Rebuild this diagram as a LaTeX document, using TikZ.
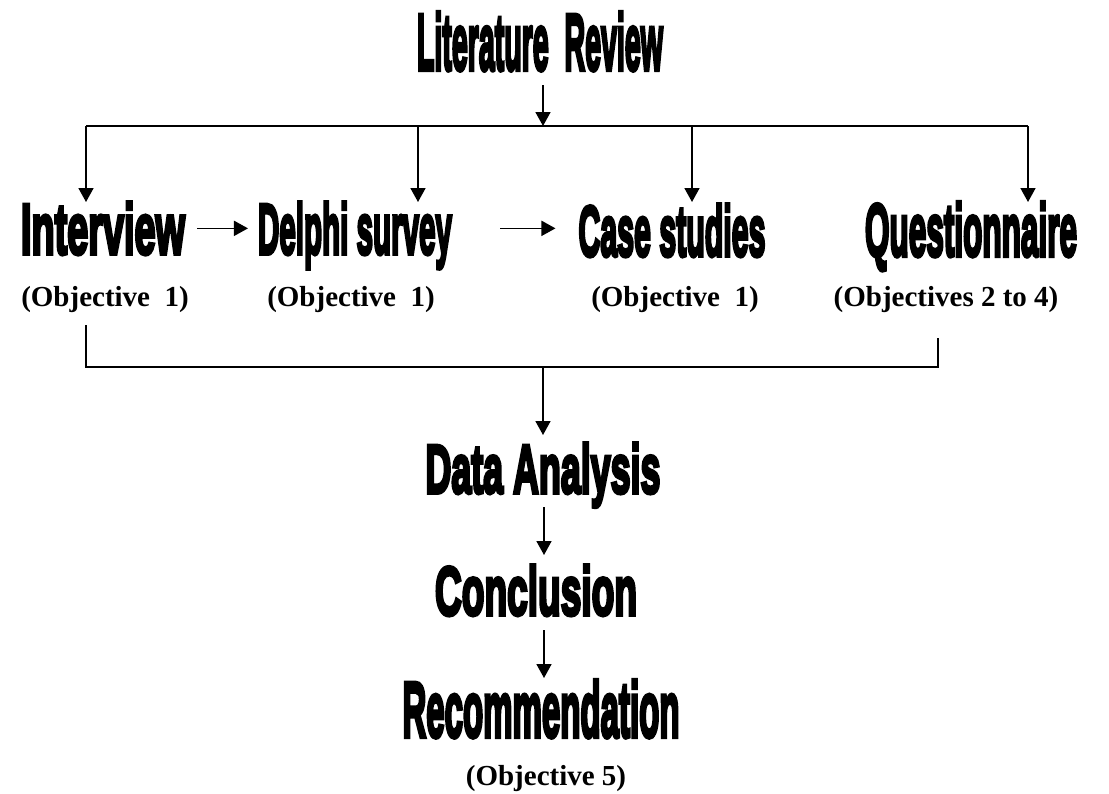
\documentclass[tikz,border=0pt]{standalone}
\usepackage{fontspec}
\usepackage{graphicx}
\usetikzlibrary{arrows.meta}
\setmainfont{Liberation Serif}
\newfontfamily\headfont{Liberation Sans}[BoldFeatures={FakeBold=5.5}]
% heading text squeezed to a given width and cap height
\newcommand\headtext[3]{\resizebox{#1pt}{#2pt}{\headfont\bfseries #3}}
\tikzset{
  head/.style={inner sep=0pt, outer sep=0pt, anchor=base},
  objlabel/.style={inner sep=0pt, anchor=base, font=\fontsize{29}{31}\selectfont\bfseries},
  link/.style={line width=1.7pt, black},
  arr/.style={link, -{Triangle[length=14pt,width=15pt]}}
}
\begin{document}
\begin{tikzpicture}[x=1pt,y=-1pt]
\useasboundingbox (0,0) rectangle (1109,793);

% headings
\node[head] (lr)  at (540,70)  {\headtext{246}{58}{Literature\ \ Review}};
\node[head] (int) at (103,254) {\headtext{164}{52}{Interview}};
\node[head] (del) at (355,254) {\headtext{194}{52}{Delphi survey}};
\node[head] (cas) at (672,256) {\headtext{187}{52}{Case studies}};
\node[head] (que) at (971,256) {\headtext{212}{54}{Questionnaire}};
\node[head] (da)  at (543,493) {\headtext{235}{50}{Data Analysis}};
\node[head] (con) at (536,615) {\headtext{202}{50}{Conclusion}};
\node[head] (rec) at (541,737) {\headtext{277}{57}{Recommendation}};

% objective labels
\node[objlabel] (o1) at (105,306) {(Objective\ \ 1)};
\node[objlabel] (o2) at (351,306) {(Objective\ \ 1)};
\node[objlabel] (o3) at (675,306) {(Objective\ \ 1)};
\node[objlabel] (o4) at (946,306) {(Objectives 2 to 4)};
\node[objlabel] (o5) at (546,785) {(Objective 5)};

% fan-out from the literature review
\coordinate (lrfoot) at (543,85);
\coordinate (split)  at (543,126);
\coordinate (tint)   at (86,126);
\coordinate (tdel)   at (418,126);
\coordinate (tcas)   at (692,126);
\coordinate (tque)   at (1028,126);
\draw[arr] (lrfoot) -- (split);
\draw[link] (tint) -- (tque);
\draw[arr] (tint) -- (tint |- int.north);
\draw[arr] (tdel) -- (tdel |- int.north);
\draw[arr] (tcas) -- (tcas |- int.north);
\draw[arr] (tque) -- (tque |- int.north);

% sequence along the middle row
\draw[arr, shorten <=12pt, shorten >=10pt] (int.east) -- (int.east -| del.west);
\draw[arr, shorten <=48pt, shorten >=23pt] (int.east -| del.east) -- (int.east -| cas.west);

% gathering into the analysis
\coordinate (jl) at (86,325);
\coordinate (jr) at (938,338);
\coordinate (merge) at (543,367);
\draw[link] (jl) |- (merge) -| (jr);
\draw[arr, shorten >=8pt] (merge) -- (merge |- da.north);

% down the column
\coordinate (dafoot) at (544,507);
\coordinate (confoot) at (544,630);
\draw[arr, shorten >=10pt] (dafoot) -- (dafoot |- con.north);
\draw[arr, shorten >=2pt] (confoot) -- (confoot |- rec.north);
\end{tikzpicture}
\end{document}
